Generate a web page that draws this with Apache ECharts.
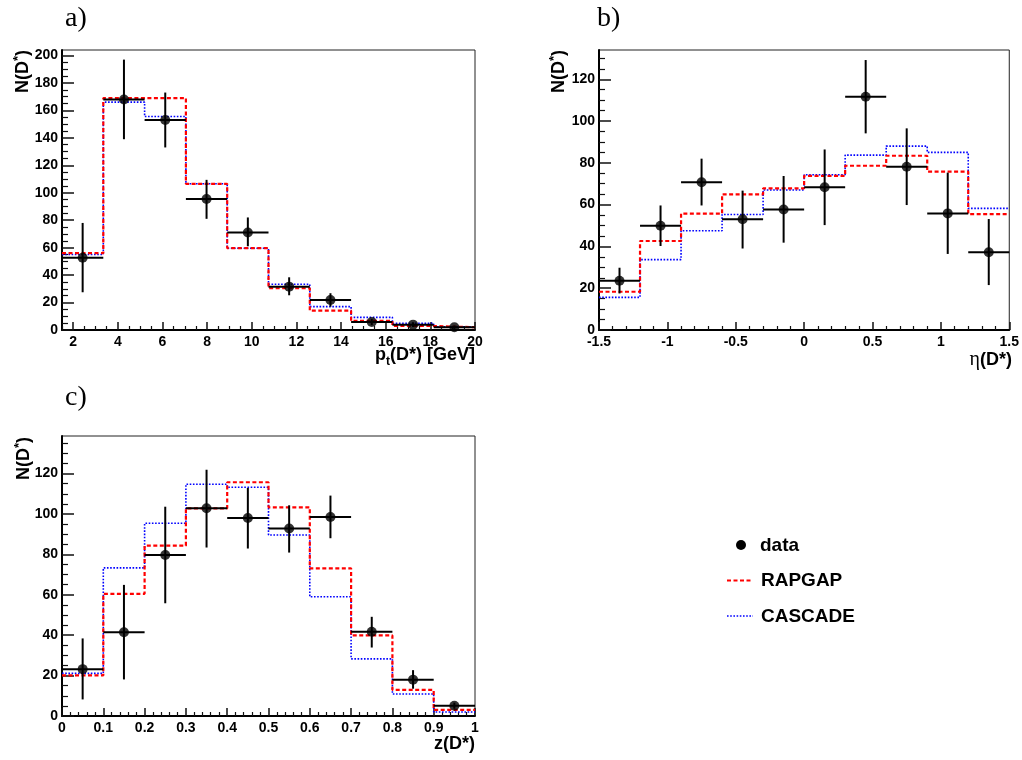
<!DOCTYPE html>
<html><head><meta charset="utf-8">
<script src="https://cdn.jsdelivr.net/npm/echarts@6/dist/echarts.min.js"></script>
<style>html,body{margin:0;padding:0;background:#fff}#c{width:1022px;height:760px}</style>
</head><body><div id="c"></div>
<script>
// ---------- Panel a: pt(D*) ----------
const aEdges   = [1.5, 3.35, 5.2, 7.05, 8.9, 10.75, 12.6, 14.45, 16.3, 18.15, 20];
const aData    = [52.7, 168, 153, 95.4, 71, 31.6, 21.9, 5.8, 3.9, 2];
const aLow     = [27.5, 139, 133, 81, 61, 25.3, 17, 3.5, 2.2, 0.8];
const aHigh    = [78, 197, 173, 109.4, 82, 38.4, 26.8, 8.1, 5.6, 3.2];
const aRapgap  = [56, 169, 169, 106.5, 59.6, 30.4, 14.1, 6.6, 2.9, 2];
const aCascade = [55, 166, 155.5, 106.5, 59.6, 33.3, 17, 9.2, 4.9, 2.4];
const aXTicks  = [2, 4, 6, 8, 10, 12, 14, 16, 18, 20];
const aXLabels = ['2', '4', '6', '8', '10', '12', '14', '16', '18', '20'];
const aYTicks  = [0, 20, 40, 60, 80, 100, 120, 140, 160, 180, 200];
const aYLabels = ['0', '20', '40', '60', '80', '100', '120', '140', '160', '180', '200'];

// ---------- Panel b: eta(D*) ----------
const bEdges   = [-1.5, -1.2, -0.9, -0.6, -0.3, 0, 0.3, 0.6, 0.9, 1.2, 1.5];
const bData    = [23.6, 49.9, 70.7, 53, 57.7, 68.3, 111.6, 78.1, 55.8, 37.2];
const bLow     = [17.5, 40.2, 59.6, 39, 41.8, 50.2, 94.1, 59.8, 36.4, 21.5];
const bHigh    = [29.8, 59.6, 82, 66.7, 73.7, 86.4, 129.2, 96.5, 75.3, 53.1];
const bRapgap  = [18.3, 42.6, 55.7, 64.9, 67.8, 73.8, 78.6, 83.4, 75.8, 55.5];
const bCascade = [15.6, 33.7, 47.5, 55.3, 67, 74.3, 83.7, 88, 85, 58.2];
const bXTicks  = [-1.5, -1, -0.5, 0, 0.5, 1, 1.5];
const bXLabels = ['-1.5', '-1', '-0.5', '0', '0.5', '1', '1.5'];
const bYTicks  = [0, 20, 40, 60, 80, 100, 120];
const bYLabels = ['0', '20', '40', '60', '80', '100', '120'];

// ---------- Panel c: z(D*) ----------
const cEdges   = [0, 0.1, 0.2, 0.3, 0.4, 0.5, 0.6, 0.7, 0.8, 0.9, 1];
const cData    = [23.2, 41.5, 79.7, 102.8, 98, 92.8, 98.5, 41.7, 18, 5.1];
const cLow     = [8.2, 18.1, 55.8, 83.4, 82.9, 80.9, 88, 33.9, 13.5, 3.6];
const cHigh    = [38.4, 64.9, 103.6, 121.9, 112.9, 104.3, 109.1, 49.1, 22.7, 6.6];
const cRapgap  = [20.1, 60.5, 84.3, 102.8, 115.7, 103.3, 73.1, 39.9, 12.9, 3];
const cCascade = [21.1, 73.3, 95.4, 114.7, 113.2, 89.6, 59, 28.3, 10.9, 2];
const cXTicks  = [0, 0.1, 0.2, 0.3, 0.4, 0.5, 0.6, 0.7, 0.8, 0.9, 1];
const cXLabels = ['0', '0.1', '0.2', '0.3', '0.4', '0.5', '0.6', '0.7', '0.8', '0.9', '1'];
const cYTicks  = [0, 20, 40, 60, 80, 100, 120];
const cYLabels = ['0', '20', '40', '60', '80', '100', '120'];

const legendNames = ['data', 'RAPGAP', 'CASCADE'];
const panelTags = ['a)', 'b)', 'c)'];

// ---------- helpers ----------
const SANS = 'Liberation Sans, Arial, sans-serif';
function minorTicks(min, max, step, majors) {
  const out = [];
  for (let k = Math.ceil(min / step - 1e-9); k * step <= max + 1e-9; k++) {
    const v = +(k * step).toFixed(6);
    if (!majors.some(m => Math.abs(m - v) < 1e-9)) out.push(v);
  }
  return out;
}
function stepData(edges, vals) {
  const out = [];
  for (let i = 0; i < vals.length; i++) { out.push([edges[i], vals[i]]); out.push([edges[i + 1], vals[i]]); }
  return out;
}
function errData(edges, vals, lo, hi) {
  return vals.map((v, i) => [edges[i], edges[i + 1], (edges[i] + edges[i + 1]) / 2, lo[i], hi[i], v]);
}
function axisPair(dim, grid, min, max, majors, labels, minorStep, majLen, minLen) {
  const fmt = v => { const i = majors.findIndex(m => Math.abs(m - v) < 1e-9); return i >= 0 ? labels[i] : ''; };
  const pos = dim === 'x' ? 'bottom' : 'left';
  const major = {
    type: 'value', gridIndex: grid, min: min, max: max, position: pos,
    axisLine: { show: true, onZero: false, lineStyle: { color: '#000', width: 2 } },
    axisTick: { show: true, inside: true, length: majLen, customValues: majors, lineStyle: { color: '#111', width: 1.5 } },
    axisLabel: { show: true, customValues: majors, formatter: fmt, margin: dim === 'x' ? 5 : 4, hideOverlap: false,
      color: '#000', fontFamily: SANS, fontWeight: 'bold', fontSize: 14 },
    splitLine: { show: false }
  };
  const minor = {
    type: 'value', gridIndex: grid, min: min, max: max, position: pos,
    axisLine: { show: false, onZero: false },
    axisTick: { show: true, inside: true, length: minLen, customValues: minorTicks(min, max, minorStep, majors), lineStyle: { color: '#111', width: 1.2 } },
    axisLabel: { show: false },
    splitLine: { show: false }
  };
  return [major, minor];
}

const xAxis = [].concat(
  axisPair('x', 0, 1.5, 20, aXTicks, aXLabels, 0.5, 8, 4),
  axisPair('x', 1, -1.5, 1.5, bXTicks, bXLabels, 0.1, 8, 4),
  axisPair('x', 2, 0, 1, cXTicks, cXLabels, 0.02, 8, 4)
);
const yAxis = [].concat(
  axisPair('y', 0, 0, 204, aYTicks, aYLabels, 5, 12, 6),
  axisPair('y', 1, 0, 134, bYTicks, bYLabels, 5, 12, 6),
  axisPair('y', 2, 0, 138.6, cYTicks, cYLabels, 5, 12, 6)
);

function panelSeries(k, edges, data, lo, hi, rap, cas) {
  const ax = { xAxisIndex: 2 * k, yAxisIndex: 2 * k };
  return [
    Object.assign({ type: 'line', name: legendNames[2], data: stepData(edges, cas), showSymbol: false, z: 2,
      lineStyle: { color: '#0000ff', width: 1.6, type: [1.6, 1.6] } }, ax),
    Object.assign({ type: 'line', name: legendNames[1], data: stepData(edges, rap), showSymbol: false, z: 3,
      lineStyle: { color: '#ff0000', width: 2.2, type: [4, 2.5] } }, ax),
    Object.assign({ type: 'custom', name: legendNames[0] + ' errors', data: errData(edges, data, lo, hi), z: 4,
      encode: { x: [0, 1, 2], y: [3, 4, 5] },
      renderItem: function (params, api) {
        const l = api.coord([api.value(0), api.value(5)]);
        const r = api.coord([api.value(1), api.value(5)]);
        const b = api.coord([api.value(2), api.value(3)]);
        const t = api.coord([api.value(2), api.value(4)]);
        const st = { stroke: '#000', lineWidth: 2 };
        return { type: 'group', children: [
          { type: 'line', shape: { x1: l[0], y1: l[1], x2: r[0], y2: r[1] }, style: st },
          { type: 'line', shape: { x1: b[0], y1: b[1], x2: t[0], y2: t[1] }, style: st }
        ] };
      } }, ax),
    Object.assign({ type: 'scatter', name: legendNames[0], z: 5, symbol: 'circle', symbolSize: 10,
      itemStyle: { color: '#000' },
      data: data.map((v, i) => [(edges[i] + edges[i + 1]) / 2, v]) }, ax)
  ];
}

const series = [].concat(
  panelSeries(0, aEdges, aData, aLow, aHigh, aRapgap, aCascade),
  panelSeries(1, bEdges, bData, bLow, bHigh, bRapgap, bCascade),
  panelSeries(2, cEdges, cData, cLow, cHigh, cRapgap, cCascade)
);

const gridStyle = { show: true, borderColor: '#222', borderWidth: 1, backgroundColor: 'transparent' };
const grid = [
  Object.assign({ left: 62, top: 50, width: 413, height: 280 }, gridStyle),
  Object.assign({ left: 599, top: 50, width: 413, height: 280 }, gridStyle),
  Object.assign({ left: 62, top: 436, width: 413, height: 280 }, gridStyle)
];

function yTitle(x, y) {
  return { type: 'text', x: x, y: y, rotation: Math.PI / 2,
    style: { text: '{n|N(D}{s|*}{n|)}', align: 'right', verticalAlign: 'middle',
      rich: { n: { fontFamily: SANS, fontWeight: 'bold', fontSize: 18, fill: '#000', lineHeight: 22 },
              s: { fontFamily: SANS, fontWeight: 'bold', fontSize: 13, fill: '#000', lineHeight: 22, verticalAlign: 'top' } } } };
}
const tagStyle = { fontFamily: 'Liberation Serif, serif', fontSize: 28, fill: '#000', verticalAlign: 'middle' };
const legStyle = { fontFamily: SANS, fontWeight: 'bold', fontSize: 19, fill: '#000', verticalAlign: 'middle' };

const graphic = [
  { type: 'text', x: 65, y: 19, style: Object.assign({ text: panelTags[0] }, tagStyle) },
  { type: 'text', x: 597, y: 19, style: Object.assign({ text: panelTags[1] }, tagStyle) },
  { type: 'text', x: 65, y: 398, style: Object.assign({ text: panelTags[2] }, tagStyle) },
  yTitle(23, 50), yTitle(559, 50), yTitle(24, 437),
  { type: 'text', x: 475, y: 346, style: { text: '{b|p}{t|t}{b|(D*) [GeV]}', align: 'right', verticalAlign: 'top',
      rich: { b: { fontFamily: SANS, fontWeight: 'bold', fontSize: 18, fill: '#000', lineHeight: 18, verticalAlign: 'top' },
              t: { fontFamily: SANS, fontWeight: 'bold', fontSize: 12, fill: '#000', lineHeight: 14, padding: [10, 0, 0, 0], verticalAlign: 'top' } } } },
  { type: 'text', x: 1012, y: 360, style: { text: '{e|η}{b|(D*)}', align: 'right', verticalAlign: 'middle',
      rich: { e: { fontFamily: 'Liberation Serif, serif', fontSize: 20, fill: '#000' },
              b: { fontFamily: SANS, fontWeight: 'bold', fontSize: 18, fill: '#000' } } } },
  { type: 'text', x: 475, y: 744, style: { text: 'z(D*)', align: 'right', verticalAlign: 'middle', fontFamily: SANS, fontWeight: 'bold', fontSize: 18, fill: '#000' } },
  // legend
  { type: 'circle', shape: { cx: 741, cy: 545, r: 5 }, style: { fill: '#000' } },
  { type: 'text', x: 760, y: 546, style: Object.assign({ text: legendNames[0] }, legStyle) },
  { type: 'line', shape: { x1: 727, y1: 580.5, x2: 752, y2: 580.5 }, style: { stroke: '#ff0000', lineWidth: 2.2, lineDash: [4, 2.5] } },
  { type: 'text', x: 761, y: 581, style: Object.assign({ text: legendNames[1] }, legStyle) },
  { type: 'line', shape: { x1: 727, y1: 616, x2: 753, y2: 616 }, style: { stroke: '#0000ff', lineWidth: 1.6, lineDash: [1.6, 1.6] } },
  { type: 'text', x: 761, y: 617, style: Object.assign({ text: legendNames[2] }, legStyle) }
];

const chart = echarts.init(document.getElementById('c'), null, { renderer: 'canvas' });
chart.setOption({ animation: false, backgroundColor: '#fff', grid: grid, xAxis: xAxis, yAxis: yAxis, series: series, graphic: graphic });
</script></body></html>
